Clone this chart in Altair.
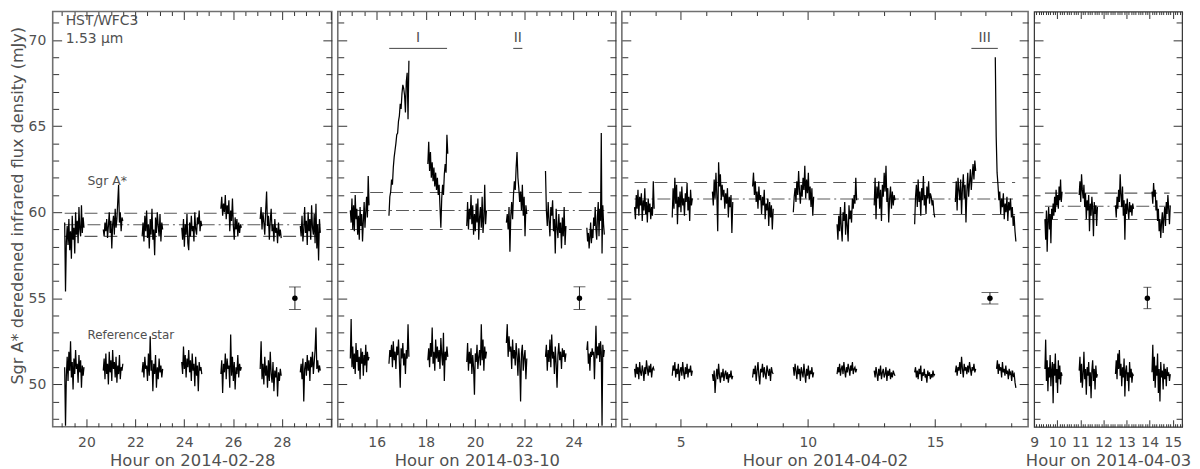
import altair as alt
import pandas as pd

FONT = "DejaVu Sans"
TXT = "#505050"
YDOM = [47.54, 71.66]
H = 418

# ---------------- data ----------------
# segment (start, end) times in hours
p1_t = [(19.11, 19.90), (20.69, 21.49), (22.28, 23.12), (23.90, 24.72), (25.50, 26.34), (27.11, 27.97), (28.75, 29.57)]
p2_t = [(14.93, 15.69), (16.50, 17.31), (18.08, 18.89), (19.66, 20.46), (21.27, 22.10), (22.86, 23.69), (24.54, 25.25)]
p3_t = [(3.19, 3.96), (4.67, 5.46), (6.25, 7.05), (7.83, 8.64), (9.43, 10.23), (11.15, 11.92), (12.61, 13.43),
        (14.20, 14.99), (15.80, 16.60), (17.37, 18.18)]
p3_ref_t = p3_t[:9] + [(17.42, 18.18)]
p4_t = [(9.47, 10.21), (10.95, 11.74), (12.52, 13.30), (14.10, 14.89)]

p1_sgr = [
    [59.4, 55.4, 58.3, 59.2, 58.1, 59.6, 57.8, 58.9, 57.3, 59.8, 58.4, 59.1, 57.6, 60.0, 58.7, 59.5, 58.2, 60.3, 59.0, 58.6, 60.4, 58.8, 59.7, 59.1],
    [59.0, 58.6, 59.4, 58.9, 59.6, 58.5, 59.2, 60.0, 58.8, 59.5, 57.9, 59.3, 59.8, 58.7, 60.2, 59.1, 59.6, 60.6, 61.6, 59.4, 60.0, 58.9, 59.7, 59.5],
    [58.6, 59.4, 58.3, 59.8, 58.9, 60.1, 58.5, 59.3, 57.9, 59.6, 58.7, 60.2, 58.4, 59.0, 57.5, 59.7, 58.8, 60.0, 59.2, 58.6, 59.9, 58.3, 59.4, 59.0],
    [59.1, 58.4, 59.6, 58.0, 59.3, 58.7, 59.9, 58.2, 57.8, 59.4, 58.6, 59.8, 58.9, 59.2, 58.3, 60.0, 59.0, 58.7, 59.7, 59.3, 60.1, 58.9, 59.5, 59.2],
    [60.2, 60.9, 59.8, 60.5, 60.0, 61.0, 59.6, 60.4, 59.9, 60.7, 58.9, 60.1, 59.5, 60.8, 59.2, 58.4, 59.7, 59.0, 59.6, 58.6, 59.4, 58.8, 59.3, 59.1],
    [59.6, 60.3, 59.0, 60.0, 59.4, 58.7, 60.1, 61.2, 59.2, 59.8, 58.4, 59.5, 60.2, 58.9, 59.3, 58.3, 59.6, 58.8, 59.1, 58.2, 59.4, 58.6, 59.0, 58.5],
    [59.2, 58.6, 59.8, 58.3, 59.0, 60.3, 58.8, 59.5, 58.1, 60.0, 58.9, 59.6, 58.4, 60.4, 59.1, 58.7, 59.9, 58.2, 60.5, 57.9, 59.3, 57.2, 59.6, 58.8],
]
p1_ref = [
    [51.0, 47.6, 50.5, 51.6, 50.2, 51.9, 50.8, 52.5, 50.4, 51.3, 49.7, 51.5, 50.6, 52.0, 50.9, 51.2, 50.1, 51.7, 50.7, 51.4, 49.8, 51.1, 50.5, 51.0],
    [50.8, 51.5, 50.3, 51.8, 50.6, 51.2, 50.0, 51.9, 50.7, 51.4, 50.2, 52.0, 50.9, 51.3, 50.4, 51.6, 50.1, 51.1, 50.6, 51.7, 50.3, 51.0, 50.8, 51.2],
    [50.7, 51.3, 50.4, 51.6, 50.9, 51.1, 50.2, 51.8, 50.5, 52.8, 50.8, 51.4, 49.6, 51.2, 50.6, 51.7, 49.8, 51.0, 50.3, 51.5, 50.7, 51.1, 50.4, 50.9],
    [51.3, 50.6, 52.2, 50.9, 51.7, 50.4, 51.5, 51.0, 52.0, 50.7, 51.4, 50.2, 51.8, 50.8, 51.2, 49.9, 51.6, 50.5, 51.1, 49.6, 51.3, 50.8, 51.0, 50.6],
    [50.6, 51.4, 49.5, 51.2, 50.7, 51.8, 50.3, 51.5, 50.9, 51.1, 49.8, 52.9, 50.5, 51.6, 50.2, 51.3, 49.7, 51.0, 50.6, 51.7, 50.4, 51.2, 50.8, 51.0],
    [50.9, 52.5, 50.3, 51.2, 50.0, 51.6, 50.5, 51.1, 49.8, 51.4, 50.2, 51.9, 50.6, 50.1, 51.3, 49.6, 50.8, 50.4, 51.0, 49.3, 50.7, 50.2, 50.9, 50.5],
    [50.7, 51.2, 50.3, 51.5, 49.0, 50.9, 51.3, 50.5, 51.7, 50.8, 51.4, 50.2, 51.6, 51.0, 51.9, 50.6, 51.3, 52.0, 53.3, 50.9, 51.4, 50.7, 51.1, 50.8],
]
p2_sgr = [
    [60.1, 59.4, 60.8, 59.0, 60.4, 58.9, 61.0, 59.6, 60.2, 58.7, 59.8, 58.4, 60.3, 59.2, 59.9, 58.3, 59.5, 60.6, 59.1, 60.0, 60.9, 59.7, 62.1, 60.4],
    [59.8, 60.9, 61.2, 61.9, 61.6, 62.6, 63.2, 63.6, 64.0, 64.5, 64.6, 65.3, 65.6, 66.3, 66.0, 66.9, 67.4, 67.2, 66.8, 65.8, 67.6, 68.1, 65.4, 68.8],
    [62.8, 64.1, 62.4, 63.5, 62.0, 62.9, 61.8, 62.6, 61.5, 62.3, 61.3, 62.0, 61.0, 61.6, 60.3, 59.1, 60.8, 61.6, 61.0, 62.2, 62.8, 62.3, 64.5, 63.4],
    [59.2, 60.6, 59.0, 60.2, 59.6, 61.0, 59.3, 60.4, 58.7, 59.9, 58.9, 60.5, 59.4, 60.8, 58.4, 59.7, 60.3, 59.1, 60.9, 58.8, 59.6, 61.6, 59.3, 60.1],
    [59.4, 59.9, 59.0, 60.3, 57.7, 59.8, 60.6, 59.6, 61.0, 61.8, 61.3, 62.6, 63.5, 62.0, 61.4, 60.6, 61.2, 60.1, 61.6, 59.8, 60.9, 58.6, 60.4, 59.9],
    [62.4, 60.1, 59.2, 60.6, 59.5, 58.6, 60.3, 59.8, 60.7, 58.9, 59.6, 57.6, 60.2, 59.1, 58.5, 59.9, 58.8, 59.4, 57.9, 59.7, 58.6, 60.3, 58.1, 59.2],
    [59.1, 58.3, 58.8, 57.9, 58.6, 59.4, 58.2, 59.0, 58.5, 59.7, 59.2, 60.3, 59.0, 58.4, 59.8, 60.6, 58.6, 60.2, 59.5, 64.6, 57.6, 60.4, 59.3, 58.7],
]
p2_ref = [
    [51.5, 53.8, 51.0, 52.2, 50.9, 51.8, 50.6, 52.4, 51.3, 52.0, 50.8, 51.6, 50.3, 52.1, 51.2, 51.9, 50.5, 51.7, 51.1, 52.3, 50.7, 51.9, 51.4, 51.6],
    [51.2, 52.0, 51.6, 52.3, 51.0, 52.5, 51.4, 51.9, 50.9, 52.2, 51.7, 52.6, 51.3, 49.8, 52.1, 51.5, 52.4, 51.1, 51.8, 50.6, 52.0, 51.5, 53.5, 51.6],
    [51.4, 52.1, 51.0, 52.4, 51.6, 53.3, 51.2, 51.9, 50.8, 52.6, 51.5, 52.2, 51.3, 52.0, 50.9, 52.7, 51.7, 51.1, 53.0, 50.2, 51.9, 51.4, 52.2, 51.6],
    [51.3, 52.4, 50.8, 51.9, 51.2, 52.1, 50.6, 51.7, 51.0, 49.4, 51.8, 51.3, 52.3, 50.9, 51.6, 52.0, 51.1, 53.5, 51.4, 52.6, 50.8, 52.2, 51.5, 51.9],
    [52.4, 53.5, 51.6, 52.8, 51.9, 52.2, 50.9, 52.6, 51.5, 52.0, 51.1, 52.4, 51.7, 50.5, 52.1, 51.3, 49.0, 51.8, 52.3, 50.8, 51.6, 52.0, 50.3, 51.5],
    [51.6, 52.3, 50.8, 52.0, 51.3, 52.6, 51.0, 52.9, 51.5, 51.9, 50.6, 52.2, 51.2, 49.8, 51.7, 52.4, 51.4, 51.9, 50.9, 52.1, 51.6, 52.0, 51.3, 51.8],
    [52.0, 52.5, 51.2, 51.8, 50.8, 51.9, 51.6, 52.1, 51.7, 51.9, 50.3, 51.8, 53.4, 51.5, 52.2, 51.7, 52.4, 51.3, 52.5, 51.9, 47.6, 52.3, 51.6, 52.0],
]
p3_sgr = [
    [60.3, 59.6, 61.0, 60.2, 61.3, 59.8, 60.9, 60.4, 61.1, 59.5, 60.7, 60.1, 61.4, 59.9, 60.6, 59.4, 60.8, 60.0, 60.5, 59.6, 60.3, 59.8, 61.8, 60.2],
    [59.7, 61.4, 60.2, 62.0, 60.5, 61.6, 59.3, 60.9, 60.3, 61.2, 60.0, 61.5, 60.4, 60.8, 59.8, 61.1, 60.6, 61.7, 60.1, 60.9, 59.5, 61.3, 60.4, 60.8],
    [61.2, 60.4, 61.9, 60.8, 62.3, 61.0, 58.9, 62.9, 61.5, 62.2, 60.7, 61.6, 60.9, 61.3, 60.2, 61.1, 60.5, 61.4, 59.7, 60.9, 60.3, 61.0, 58.8, 60.6],
    [61.5, 62.3, 61.0, 61.8, 60.6, 61.2, 60.2, 61.5, 60.7, 61.0, 59.9, 60.9, 60.4, 61.3, 59.6, 60.5, 60.1, 60.8, 59.2, 60.6, 59.7, 60.4, 59.0, 60.2],
    [60.0, 60.9, 61.4, 60.6, 61.8, 61.0, 62.4, 61.2, 60.5, 61.6, 60.9, 62.0, 61.3, 62.7, 60.8, 61.9, 61.1, 62.3, 60.7, 61.5, 60.3, 61.4, 59.8, 60.9],
    [59.3, 58.4, 59.8, 58.9, 60.3, 59.1, 58.3, 60.0, 59.5, 60.6, 58.7, 59.9, 59.2, 58.3, 60.4, 59.6, 60.1, 59.4, 60.8, 60.2, 61.0, 60.5, 62.0, 60.7],
    [60.4, 62.0, 59.6, 61.5, 60.8, 61.8, 60.2, 61.3, 59.5, 61.6, 60.9, 62.3, 61.2, 62.7, 60.6, 61.4, 59.4, 60.8, 61.5, 60.2, 61.2, 60.4, 61.0, 60.7],
    [59.3, 60.9, 61.6, 60.3, 61.9, 60.6, 61.2, 59.8, 61.4, 60.7, 62.1, 60.4, 61.0, 59.9, 61.5, 60.8, 61.8, 60.5, 61.1, 60.9, 60.4, 60.7, 60.0, 59.7],
    [60.6, 61.8, 60.1, 62.0, 61.3, 60.7, 61.9, 59.9, 61.4, 62.2, 60.8, 61.6, 59.4, 61.2, 62.3, 60.9, 61.7, 62.5, 61.3, 62.1, 62.8, 61.9, 63.0, 62.4],
    [69.0, 64.4, 62.3, 61.6, 60.7, 61.2, 59.9, 60.8, 60.3, 61.1, 59.6, 60.5, 60.0, 60.9, 59.5, 60.6, 60.1, 60.8, 59.7, 60.3, 59.2, 59.8, 58.9, 58.3],
]
p3_ref = [
    [50.9, 50.4, 51.2, 50.6, 51.0, 50.3, 51.3, 50.7, 50.5, 51.1, 50.8, 50.2, 51.0, 50.6, 51.4, 50.9, 50.5, 51.1, 50.7, 51.2, 50.4, 50.9, 51.0, 50.8],
    [50.5, 51.1, 50.8, 51.3, 50.4, 50.9, 50.6, 51.2, 50.2, 50.8, 51.0, 50.5, 51.3, 50.7, 50.3, 51.0, 50.6, 51.2, 50.4, 50.9, 50.7, 51.1, 50.5, 50.8],
    [50.6, 50.2, 50.8, 49.5, 50.4, 50.9, 50.3, 51.2, 50.5, 50.1, 50.7, 50.4, 50.9, 50.2, 50.6, 50.8, 50.3, 50.7, 50.1, 50.6, 50.4, 50.8, 50.3, 50.5],
    [50.4, 50.9, 50.6, 51.1, 50.2, 50.8, 51.3, 50.5, 50.0, 50.9, 50.7, 51.2, 50.4, 51.0, 50.6, 50.3, 51.1, 50.8, 50.5, 50.9, 50.2, 51.0, 50.7, 50.6],
    [51.0, 50.5, 51.2, 50.8, 50.3, 51.1, 50.6, 50.9, 50.2, 51.0, 50.7, 50.4, 51.2, 50.6, 50.1, 50.9, 50.5, 51.1, 50.3, 50.8, 50.6, 51.0, 50.4, 50.7],
    [50.6, 51.0, 50.7, 51.2, 50.5, 50.9, 51.1, 50.6, 51.3, 50.8, 50.4, 51.0, 50.7, 51.2, 50.9, 50.5, 51.1, 50.8, 51.3, 50.6, 50.9, 51.0, 50.7, 50.9],
    [50.8, 50.4, 51.0, 50.6, 50.2, 50.9, 50.5, 51.1, 50.3, 50.7, 50.9, 50.4, 50.6, 51.0, 50.2, 50.8, 50.5, 50.9, 50.3, 50.7, 50.4, 50.8, 50.6, 50.5],
    [50.7, 51.0, 50.4, 50.8, 50.3, 50.9, 50.6, 51.1, 50.2, 50.7, 50.5, 50.9, 50.4, 50.6, 50.1, 50.8, 50.5, 50.7, 50.3, 50.6, 50.4, 50.8, 50.5, 50.6],
    [50.7, 51.1, 50.5, 51.0, 50.8, 51.3, 50.6, 51.6, 50.9, 50.4, 51.2, 50.8, 51.0, 50.6, 51.1, 50.7, 51.3, 50.9, 50.5, 51.0, 50.8, 51.2, 50.7, 50.9],
    [50.9, 51.4, 50.6, 51.2, 50.8, 51.0, 50.4, 51.3, 50.7, 50.9, 50.5, 51.1, 50.6, 50.8, 50.3, 50.9, 50.6, 50.7, 50.2, 50.8, 50.5, 50.6, 50.1, 49.8],
]
p4_sgr = [
    [59.6, 58.4, 60.1, 57.7, 59.5, 60.3, 59.0, 59.9, 58.2, 60.2, 59.6, 60.5, 59.8, 60.9, 60.0, 61.3, 60.4, 61.0, 60.2, 61.5, 60.7, 61.9, 60.6, 61.2],
    [61.0, 61.8, 60.6, 62.2, 61.3, 60.8, 61.6, 60.3, 61.1, 59.6, 60.7, 60.1, 61.0, 58.9, 60.5, 59.8, 60.9, 60.2, 58.6, 60.6, 59.9, 60.4, 59.2, 60.3],
    [60.4, 59.7, 60.9, 60.2, 61.3, 60.6, 62.2, 61.0, 60.3, 61.5, 59.8, 60.7, 58.4, 60.5, 59.9, 60.8, 60.1, 59.6, 60.6, 60.0, 60.4, 59.8, 60.5, 60.2],
    [61.2, 60.5, 61.7, 60.9, 61.3, 60.1, 60.7, 59.5, 60.2, 58.9, 59.6, 58.5, 59.4, 60.0, 58.8, 59.7, 60.3, 59.2, 60.6, 59.9, 61.0, 60.2, 59.3, 60.4],
]
p4_ref = [
    [50.9, 52.6, 50.2, 51.4, 49.6, 51.0, 50.4, 51.7, 49.9, 50.8, 51.3, 48.9, 51.2, 50.5, 51.8, 50.1, 50.9, 49.5, 51.4, 50.3, 51.1, 50.0, 50.7, 50.5],
    [50.8, 51.6, 50.1, 51.2, 49.8, 50.6, 51.9, 50.3, 50.9, 49.4, 51.0, 50.5, 51.3, 49.9, 50.7, 49.2, 50.8, 51.4, 50.2, 50.9, 49.7, 51.1, 50.4, 50.6],
    [50.6, 51.4, 50.3, 51.8, 50.9, 52.0, 50.5, 51.2, 49.9, 51.0, 50.4, 51.5, 49.3, 50.8, 51.1, 50.2, 50.7, 49.6, 51.3, 50.4, 50.9, 50.1, 50.6, 50.5],
    [50.7, 52.3, 50.2, 51.6, 49.8, 51.1, 50.5, 51.8, 49.5, 50.9, 49.0, 51.3, 50.4, 50.8, 49.7, 51.2, 50.3, 50.9, 49.9, 51.0, 50.5, 50.7, 50.2, 50.6],
]

# quiescent levels: (upper dashed, lower dashed, mid dash-dot), and their time span
p1_levels, p1_span = (59.94, 58.60, 59.27), (19.11, 29.57)
p2_levels, p2_span = (61.15, 59.00, 60.10), (14.93, 25.25)
p3_levels, p3_span = (61.73, 59.87, 60.77), (3.19, 18.15)
p4_levels, p4_span = (61.11, 59.58, 60.35), (9.47, 14.86)

# typical error bar: (time, value, low, high)
p1_err = (28.53, 55.0, 54.35, 55.66)
p2_err = (24.24, 55.0, 54.35, 55.67)
p3_err = (17.16, 55.0, 54.67, 55.34)
p4_err = (13.90, 55.0, 54.40, 55.64)

# flare markers: (label, start, end)
p2_flares = [("I", 16.51, 18.86), ("II", 21.55, 21.92)]
p3_flares = [("III", 16.43, 17.47)]
flare_line_y, flare_text_y = 69.52, 70.15

# axis ticks / labels
y_ticks = list(range(48, 72))
y_labels = [50, 55, 60, 65, 70]
p1_xticks = [19 + 0.5 * i for i in range(23)]
p2_xticks = [14.5 + 0.5 * i for i in range(23)]
p3_xticks = list(range(3, 19))
p4_xticks = [round(9 + 0.1 * i, 2) for i in range(65)]
p1_xlabels = [20, 22, 24, 26, 28]
p2_xlabels = [16, 18, 20, 22, 24]
p3_xlabels = [5, 10, 15]
p4_xlabels = [9, 10, 11, 12, 13, 14, 15]


def seg_frame(times, values, name):
    rows = []
    for k, ((t0, t1), vals) in enumerate(zip(times, values)):
        n = len(vals)
        for i, v in enumerate(vals):
            rows.append({"t": t0 + (t1 - t0) * i / (n - 1), "f": v, "seg": f"{name}{k}"})
    return pd.DataFrame(rows)


def tick_axis(orient, offset, values, test, big, small):
    return alt.Axis(orient=orient, offset=offset, values=values, labels=False, domain=False,
                    ticks=True, grid=False, title=None, tickColor="#333", tickWidth=1,
                    tickSize={"condition": {"test": test, "value": big}, "value": small})


def panel(dom, w, sgr_t, sgr, ref_t, ref, levels, span, err, cap, xticks, xtest, xbig, xsmall,
          xlabels, xtitle, stroke, sw, ylab=False, texts=(), flares=()):
    xs = alt.Scale(domain=dom, nice=False, zero=False)
    ys = alt.Scale(domain=YDOM, nice=False, zero=False)
    ytest = "datum.value % 5 === 0"

    xlab_axis = alt.Axis(orient="bottom", values=xlabels, format="d", ticks=False, domain=False, grid=False,
                         labelFont=FONT, labelFontSize=14, labelColor=TXT, labelPadding=9,
                         labelFlush=False, labelOverlap=False,
                         title=xtitle, titleFont=FONT, titleFontSize=16.5, titleFontWeight="normal",
                         titleColor=TXT, titlePadding=3)
    if ylab:
        ylab_axis = alt.Axis(orient="left", values=y_labels, format="d", ticks=False, domain=False, grid=False,
                             labelFont=FONT, labelFontSize=14, labelColor=TXT, labelPadding=7,
                             labelFlush=False,
                             title="Sgr A* deredened infrared flux density (mJy)", titleFont=FONT,
                             titleFontSize=16.2, titleFontWeight="normal", titleColor=TXT, titlePadding=3,
                             titleY=195)
    else:
        ylab_axis = None

    d_sgr = seg_frame(sgr_t, sgr, "s")
    d_ref = seg_frame(ref_t, ref, "r")

    l_sgr = alt.Chart(d_sgr).mark_line(color="black", strokeWidth=1.25).encode(
        x=alt.X("t:Q", scale=xs, axis=xlab_axis),
        y=alt.Y("f:Q", scale=ys, axis=ylab_axis),
        detail="seg:N")
    l_ref = alt.Chart(d_ref).mark_line(color="black", strokeWidth=1.25).encode(
        x=alt.X("t:Q", scale=xs, axis=tick_axis("top", -H, xticks, xtest, xbig, xsmall)),
        y=alt.Y("f:Q", scale=ys, axis=tick_axis("right", -w, y_ticks, ytest, 9, 6)),
        detail="seg:N")

    d_dash = pd.DataFrame({"t": [span[0]] * 2, "t2": [span[1]] * 2, "f": [levels[0], levels[1]]})
    d_dd = pd.DataFrame({"t": [span[0]], "t2": [span[1]], "f": [levels[2]]})
    l_dash = alt.Chart(d_dash).mark_rule(color="#5a5a5a", strokeWidth=1.1, strokeDash=[13, 7]).encode(
        x=alt.X("t:Q", scale=xs, axis=tick_axis("bottom", -H, xticks, xtest, xbig, xsmall)),
        x2="t2:Q",
        y=alt.Y("f:Q", scale=ys, axis=tick_axis("left", -w, y_ticks, ytest, 9, 6)))
    l_dd = alt.Chart(d_dd).mark_rule(color="#5a5a5a", strokeWidth=1.1, strokeDash=[13, 4, 2, 4]).encode(
        x=alt.X("t:Q", scale=xs, axis=None), x2="t2:Q",
        y=alt.Y("f:Q", scale=ys, axis=None))

    d_err = pd.DataFrame({"t": [err[0]], "f": [err[1]], "lo": [err[2]], "hi": [err[3]]})
    d_cap = pd.DataFrame({"t": [err[0], err[0]], "f": [err[2], err[3]]})
    l_bar = alt.Chart(d_err).mark_rule(color="#222", strokeWidth=1).encode(
        x=alt.X("t:Q", scale=xs, axis=None), y=alt.Y("lo:Q", scale=ys, axis=None), y2="hi:Q")
    l_cap = alt.Chart(d_cap).mark_tick(color="#222", orient="horizontal", size=cap, thickness=1).encode(
        x=alt.X("t:Q", scale=xs, axis=None), y=alt.Y("f:Q", scale=ys, axis=None))
    l_pt = alt.Chart(d_err).mark_circle(color="black", size=30, opacity=1).encode(
        x=alt.X("t:Q", scale=xs, axis=None), y=alt.Y("f:Q", scale=ys, axis=None))

    layers = [l_dash, l_dd, l_sgr, l_ref, l_bar, l_cap, l_pt]

    for txt, t, f, size in texts:
        dt = pd.DataFrame({"t": [t], "f": [f], "txt": [txt]})
        layers.append(alt.Chart(dt).mark_text(align="left", baseline="middle", font=FONT, fontSize=size,
                                              color=TXT, fill=TXT).encode(
            x=alt.X("t:Q", scale=xs, axis=None), y=alt.Y("f:Q", scale=ys, axis=None), text="txt:N"))

    if flares:
        df_fl = pd.DataFrame({"lab": [a for a, _, _ in flares], "t": [b for _, b, _ in flares],
                              "t2": [c for _, _, c in flares], "f": [flare_line_y] * len(flares),
                              "tm": [(b + c) / 2 for _, b, c in flares],
                              "ft": [flare_text_y] * len(flares)})
        layers.append(alt.Chart(df_fl).mark_rule(color="#444", strokeWidth=1).encode(
            x=alt.X("t:Q", scale=xs, axis=None), x2="t2:Q", y=alt.Y("f:Q", scale=ys, axis=None)))
        layers.append(alt.Chart(df_fl).mark_text(align="center", baseline="middle", font=FONT, fontSize=14,
                                                 color=TXT, fill=TXT).encode(
            x=alt.X("tm:Q", scale=xs, axis=None), y=alt.Y("ft:Q", scale=ys, axis=None),
            text=alt.Text("lab:N")))

    return alt.layer(*layers).resolve_axis(x="independent", y="independent").properties(
        width=w, height=H, view=alt.ViewBackground(stroke=stroke, strokeWidth=sw))


p1 = panel([18.62, 30.04], 281, p1_t, p1_sgr, p1_t, p1_ref, p1_levels, p1_span, p1_err, 12,
           p1_xticks, "datum.value % 2 === 0", 8, 4, p1_xlabels, "Hour on 2014-02-28", "#707070", 1.6,
           ylab=True,
           texts=[("HST/WFC3", 19.15, 71.11, 14), ("1.53 \u03bcm", 19.15, 70.04, 14),
                  ("Sgr A*", 20.04, 61.79, 12.5), ("Reference star", 20.04, 52.89, 12)])
p2 = panel([14.42, 25.72], 280, p2_t, p2_sgr, p2_t, p2_ref, p2_levels, p2_span, p2_err, 12,
           p2_xticks, "datum.value % 2 === 0", 8, 4, p2_xlabels, "Hour on 2014-03-10", "#707070", 1.6,
           flares=p2_flares)
p3 = panel([2.69, 18.66], 409, p3_t, p3_sgr, p3_ref_t, p3_ref, p3_levels, p3_span, p3_err, 17,
           p3_xticks, "datum.value % 5 === 0", 8, 4, p3_xlabels, "Hour on 2014-04-02", "#707070", 1.6,
           flares=p3_flares)
p4 = panel([9.0, 15.4], 149, p4_t, p4_sgr, p4_t, p4_ref, p4_levels, p4_span, p4_err, 8,
           p4_xticks, "abs(datum.value - round(datum.value)) < 0.01", 7, 3, p4_xlabels,
           "Hour on 2014-04-03", "#333333", 1.2)

chart = alt.hconcat(p1, p2, p3, p4, spacing=6, bounds="flush").properties(
    padding={"left": 0, "top": 0, "right": 0, "bottom": 0}
).configure_view(stroke="#707070")

chart.save("out.html", embed_options={"renderer": "svg", "actions": False})
